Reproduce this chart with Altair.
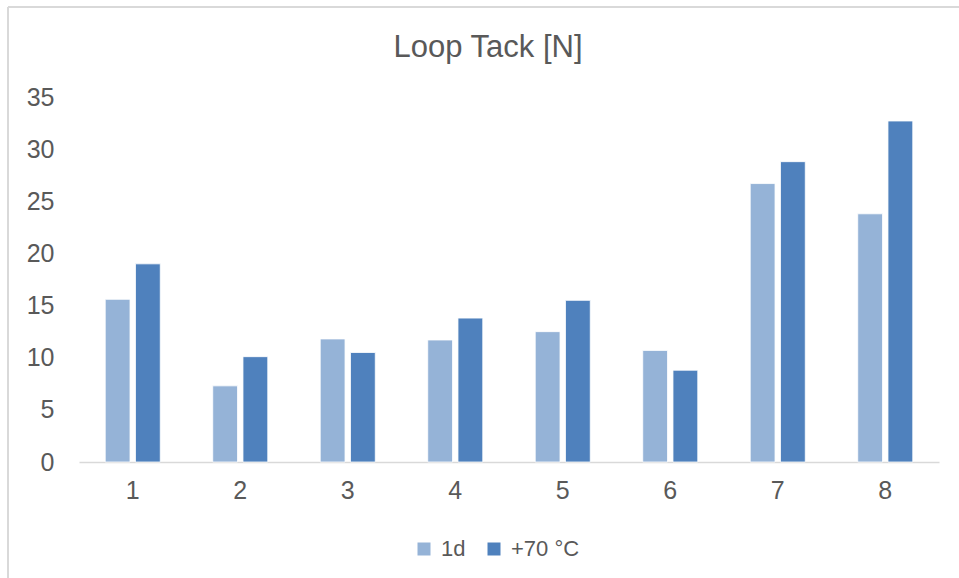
import altair as alt
import pandas as pd

categories = ["1", "2", "3", "4", "5", "6", "7", "8"]
series_names = ["1d", "+70 °C"]
values_1d = [15.6, 7.3, 11.8, 11.7, 12.5, 10.7, 26.7, 23.8]
values_70 = [19.0, 10.1, 10.5, 13.8, 15.5, 8.8, 28.8, 32.7]
y_ticks = [0, 5, 10, 15, 20, 25, 30, 35]
colors = ["#95B3D7", "#4F81BD"]

rows = []
for c, a, b in zip(categories, values_1d, values_70):
    rows.append({"cat": c, "series": series_names[0], "value": a})
    rows.append({"cat": c, "series": series_names[1], "value": b})
df = pd.DataFrame(rows)

FONT = "Liberation Sans"
TXT = "#595959"
LINE = "#d9d9d9"

bars = alt.Chart(df).mark_bar(stroke="white", strokeWidth=0.8).encode(
    x=alt.X(
        "cat:N", sort=categories,
        scale=alt.Scale(paddingInner=0.488, paddingOuter=0.244),
        axis=alt.Axis(title=None, labelAngle=0, labelFontSize=25, labelColor=TXT,
                      labelFont=FONT, labelPadding=16, ticks=False,
                      domainColor=LINE, domainWidth=1.5, grid=False),
    ),
    xOffset=alt.XOffset("series:N", sort=series_names,
                        scale=alt.Scale(paddingInner=0.18, paddingOuter=0)),
    y=alt.Y(
        "value:Q", scale=alt.Scale(domain=[0, 35], nice=False),
        axis=alt.Axis(title=None, values=y_ticks, labelFontSize=25, labelColor=TXT,
                      labelFont=FONT, labelPadding=25, ticks=False, domain=False,
                      grid=False),
    ),
    color=alt.Color(
        "series:N", sort=series_names,
        scale=alt.Scale(domain=series_names, range=colors),
        legend=alt.Legend(title=None, orient="none", legendX=334, legendY=441,
                          direction="horizontal", symbolType="square", symbolSize=169,
                          symbolStrokeWidth=0, labelFontSize=22, labelColor=TXT,
                          labelFont=FONT, labelOffset=6, columnPadding=17),
    ),
)

border_top = alt.Chart(df).mark_rule(color=LINE, strokeWidth=2).encode(
    x=alt.value(-71), x2=alt.value(900), y=alt.value(-90)
)
border_left = alt.Chart(df).mark_rule(color=LINE, strokeWidth=2).encode(
    x=alt.value(-71), y=alt.value(-90), y2=alt.value(500)
)

chart = alt.layer(border_top, border_left, bars).properties(
    width=860,
    height=365,
    background="white",
    title=alt.TitleParams("Loop Tack [N]", fontSize=31, font=FONT, color=TXT,
                          fontWeight="normal", anchor="middle", baseline="alphabetic",
                          dx=-21, dy=82, offset=0),
    autosize=alt.AutoSizeParams(type="none"),
    padding={"left": 79, "top": 97, "right": 20, "bottom": 116},
).configure_view(strokeWidth=0)

chart.save("out.html", embed_options={"renderer": "svg", "actions": False})
